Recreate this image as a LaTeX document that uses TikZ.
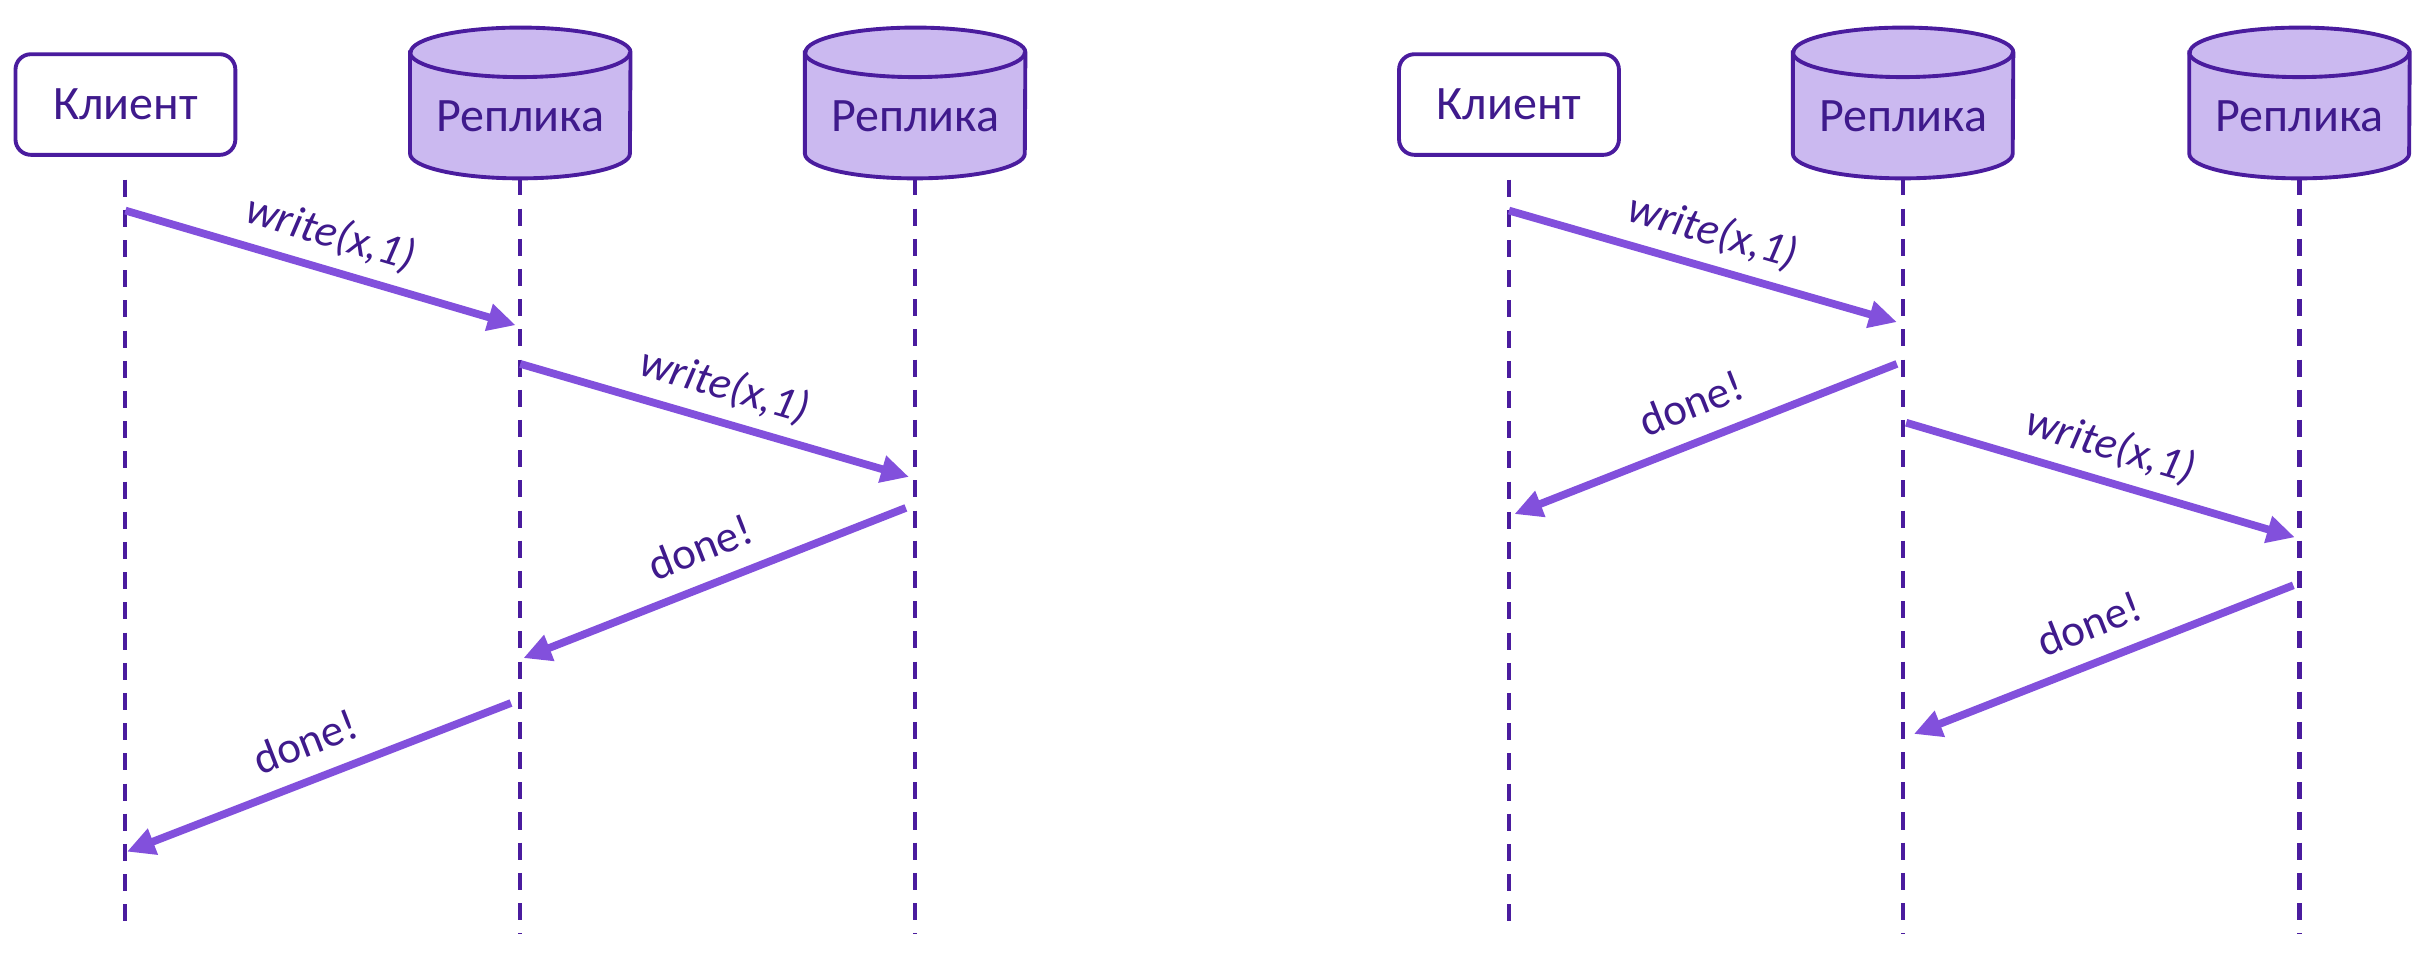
\documentclass[tikz,border=0pt]{standalone}
\usepackage{fontspec}
\setmainfont{Carlito}
\usetikzlibrary{arrows.meta}
\definecolor{outl}{HTML}{4A1C9E}
\definecolor{txt}{HTML}{3F1A8C}
\definecolor{arr}{HTML}{8250DC}
\definecolor{cfill}{HTML}{CBB9F0}
\pgfdeclarelayer{bg}
\pgfsetlayers{bg,main}
\newcommand\drawcyl[1]{%
  \path[fill=cfill, draw=outl, line width=2.5pt] ([yshift=-16pt]#1.north west) -- ([yshift=16pt]#1.south west)
    arc[start angle=180, end angle=360, x radius=71pt, y radius=16pt] -- ([yshift=-16pt]#1.north east)
    arc[start angle=0, end angle=180, x radius=71pt, y radius=16pt] -- cycle;
  \draw[outl, line width=2.5pt] ([yshift=-16pt]#1.north west) arc[start angle=180, end angle=360, x radius=71pt, y radius=16pt];}
\begin{document}
\begin{tikzpicture}[x=1pt,y=1pt,
  client/.style={draw=outl, line width=2.5pt, rounded corners=10pt, fill=white, minimum width=142pt, minimum height=65pt, inner sep=0pt, font=\fontsize{31}{36}\selectfont, text=txt},
  replica/.style={minimum width=142pt, minimum height=97pt, inner sep=0pt, font=\fontsize{31}{36}\selectfont, text=txt, text height=43pt, text depth=6pt},
  life/.style={draw=outl, line width=2.6pt, dash pattern=on 11pt off 8.5pt},
  msg/.style={draw=arr, line width=5pt, -{Triangle[length=18pt,width=17pt]}},
  wlab/.style={midway, sloped, yshift=23pt, font=\fontsize{29}{34}\selectfont\itshape, text=txt},
  dlab/.style={midway, sloped, yshift=25pt, font=\fontsize{29}{34}\selectfont, text=txt},
]
\useasboundingbox (0,0) rectangle (1568,-629);
\coordinate (ltop) at (0,-116);
\coordinate (lbot) at (0,-603);

% left panel
\node[client] (clientL) at (81,-67.5) {Клиент};
\node[replica] (replA) at (336,-66.5) {Реплика};
\node[replica] (replB) at (591,-66.5) {Реплика};
% right panel
\node[client] (clientR) at (974.5,-67.5) {Клиент};
\node[replica] (replC) at (1229,-66.5) {Реплика};
\node[replica] (replD) at (1485,-66.5) {Реплика};

\begin{pgfonlayer}{bg}
\drawcyl{replA}\drawcyl{replB}\drawcyl{replC}\drawcyl{replD}
\end{pgfonlayer}

% lifelines
\draw[life] (clientL |- ltop) -- (clientL |- lbot);
\draw[life] (replA.south) -- (replA |- lbot);
\draw[life] (replB.south) -- (replB |- lbot);
\draw[life] (clientR |- ltop) -- (clientR |- lbot);
\draw[life] (replC.south) -- (replC |- lbot);
\draw[life] (replD.south) -- (replD |- lbot);

% left messages
\coordinate (a1s) at (81,-136);   \coordinate (a1e) at (333,-210);
\coordinate (a2s) at (336,-235);  \coordinate (a2e) at (587,-308);
\coordinate (a3s) at (585,-328);  \coordinate (a3e) at (338,-425);
\coordinate (a4s) at (330,-454);  \coordinate (a4e) at (82,-550);
\draw[msg] (a1s) -- node[wlab]{write(x,1)} (a1e);
\draw[msg] (a2s) -- node[wlab]{write(x,1)} (a2e);
\draw[msg] (a3s) -- node[dlab]{done!} (a3e);
\draw[msg] (a4s) -- node[dlab]{done!} (a4e);

% right messages
\coordinate (b1s) at (974.5,-136); \coordinate (b1e) at (1225,-208);
\coordinate (b2s) at (1225,-235);  \coordinate (b2e) at (978,-332);
\coordinate (b3s) at (1231,-273);  \coordinate (b3e) at (1482,-347);
\coordinate (b4s) at (1481,-378);  \coordinate (b4e) at (1236,-474);
\draw[msg] (b1s) -- node[wlab]{write(x,1)} (b1e);
\draw[msg] (b2s) -- node[dlab]{done!} (b2e);
\draw[msg] (b3s) -- node[wlab]{write(x,1)} (b3e);
\draw[msg] (b4s) -- node[dlab]{done!} (b4e);
\end{tikzpicture}
\end{document}
